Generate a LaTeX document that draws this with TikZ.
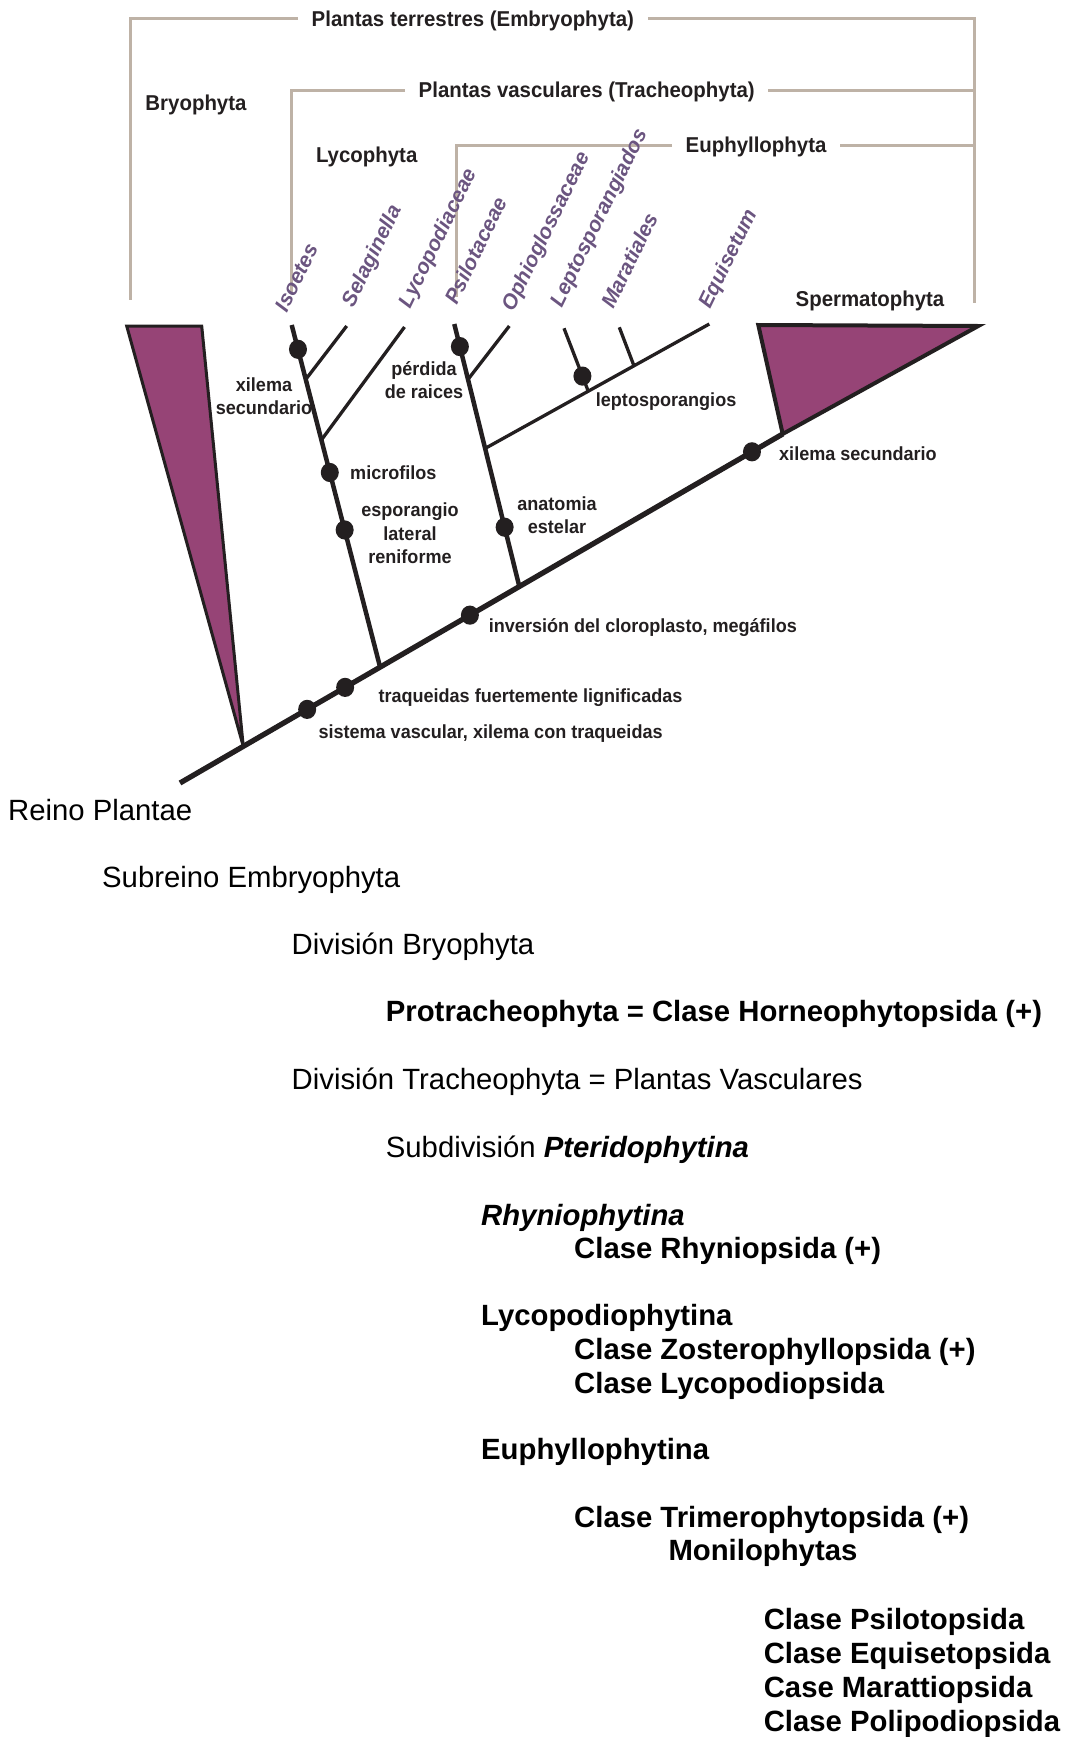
\documentclass[tikz,border=0pt]{standalone}
\usepackage{fontspec}
\setmainfont{Liberation Sans}
\newfontfamily\dfont[FakeStretch=0.95]{Liberation Sans}
\usetikzlibrary{calc}
\definecolor{ink}{RGB}{35,31,32}
\definecolor{brk}{RGB}{190,178,166}
\definecolor{purp}{RGB}{150,68,118}
\definecolor{spc}{RGB}{107,85,128}
\begin{document}
\begin{tikzpicture}[x=1pt,y=-1pt,
  hdr/.style={font=\dfont\bfseries\fontsize{21.5}{26}\selectfont, text=ink, inner xsep=13.5pt, inner ysep=0pt, text height=15.4pt, text depth=0pt, anchor=west},
  hdrt/.style={font=\dfont\bfseries\fontsize{21.5}{26}\selectfont, text=ink, inner sep=0pt, text height=15.4pt, text depth=0pt},
  lbl/.style={font=\dfont\bfseries\fontsize{19}{23.5}\selectfont, text=ink, inner sep=0pt},
  lbl1/.style={lbl, anchor=west, text height=13.7pt, text depth=0pt},
  mlbl/.style={lbl, align=center},
  spname/.style={font=\bfseries\itshape\fontsize{21}{25}\selectfont, text=spc, rotate=64, anchor=base west, inner sep=0pt},
  tx/.style={font=\fontsize{29.3}{34}\selectfont, anchor=west, inner sep=0pt, text height=21pt, text depth=0pt},
  txb/.style={tx, font=\bfseries\fontsize{29.3}{34}\selectfont},
  bracket/.style={draw=brk, line width=3pt},
  trunk/.style={draw=ink, line width=5.3pt},
  stem/.style={draw=ink, line width=4.5pt},
  twig/.style={draw=ink, line width=3.3pt},
  tri/.style={fill=purp, draw=ink, line join=miter, miter limit=5}
]
\useasboundingbox (0,0) rectangle (1065,1737);

% ---------- brackets ----------
\node[hdr] (H1) at (298,18.5) {Plantas terrestres (Embryophyta)};
\node[hdr] (H2) at (405,90) {Plantas vasculares (Tracheophyta)};
\node[hdr] (H3) at (672,145) {Euphyllophyta};
\coordinate (B1) at (130.8,300);
\coordinate (B2) at (291.5,292);
\coordinate (B3) at (456.7,297);
\coordinate (R1) at (974,303);
\draw[bracket] (H1.west) -| (B1);
\draw[bracket] (H1.east) -| (R1);
\draw[bracket] (H2.west) -| (B2);
\draw[bracket] (H2.east) -- (H2.east -| R1);
\draw[bracket] (H3.west) -| (B3);
\draw[bracket] (H3.east) -- (H3.east -| R1);

\node[hdrt] (bryo) at (196,103) {Bryophyta};
\node[hdrt] (lyco) at (366.7,155) {Lycophyta};
\node[hdrt] (sperm) at (870,298.8) {Spermatophyta};

% ---------- species names ----------
\node[spname] (sIso) at (286.7,313.3) {Isoetes};
\node[spname] (sSel) at (353.3,308.3) {Selaginella};
\node[spname] (sLyc) at (410,309.3) {Lycopodiaceae};
\node[spname] (sPsi) at (456.7,306) {Psilotaceae};
\node[spname] (sOph) at (513.3,312.7) {Ophioglossaceae};
\node[spname] (sLep) at (561.7,308.3) {Leptosporangiados};
\node[spname] (sMar) at (613.3,310) {Maratiales};
\node[spname] (sEqu) at (710,310) {Equisetum};

% ---------- tree ----------
\coordinate (M0) at (180,783);
\coordinate (MT) at (782.7,434);
\coordinate (LA) at ($(M0)!0.105!(MT)$);
\coordinate (LT) at (291.7,325);
\coordinate (L0) at ($(M0)!0.332!(MT)$);
\coordinate (ET) at (454.3,324);
\coordinate (E0) at ($(M0)!0.563!(MT)$);
\coordinate (SelT) at (346.7,326);
\coordinate (SelB) at ($(LT)!0.159!(L0)$);
\coordinate (LycT) at (404.5,327);
\coordinate (LycB) at ($(LT)!0.336!(L0)$);
\coordinate (OphT) at (509.3,326);
\coordinate (OphB) at ($(ET)!0.211!(E0)$);
\coordinate (FB) at ($(ET)!0.474!(E0)$);
\coordinate (FT) at (709.3,324);
\coordinate (LpT) at (564,328.3);
\coordinate (LpB) at ($(FB)!0.46!(FT)$);
\coordinate (MrT) at (619.3,327.3);
\coordinate (MrB) at ($(FB)!0.664!(FT)$);

\draw[trunk] (M0) -- (MT);
\draw[stem] (L0) -- (LT);
\draw[stem] (E0) -- (ET);
\draw[twig] (SelB) -- (SelT);
\draw[twig] (LycB) -- (LycT);
\draw[twig] (OphB) -- (OphT);
\draw[twig] (FB) -- (FT);
\draw[twig] (LpB) -- (LpT);
\draw[twig] (MrB) -- (MrT);

\filldraw[tri, line width=3pt, miter limit=4] (126.7,326) -- (201.7,326) -- (LA) -- cycle;
\filldraw[tri, line width=4pt] (758.3,325) -- (978.3,326) -- (MT) -- cycle;

% dots
\foreach \p in {($(LT)!0.071!(L0)$), ($(LT)!0.431!(L0)$), ($(LT)!0.599!(L0)$),
                ($(ET)!0.086!(E0)$), ($(ET)!0.774!(E0)$),
                ($(LpT)!0.76!(LpB)$),
                ($(M0)!0.211!(MT)$), ($(M0)!0.274!(MT)$), ($(M0)!0.481!(MT)$), ($(M0)!0.949!(MT)$)}
  \fill[ink] \p circle[x radius=9pt, y radius=9.6pt];

% ---------- character labels ----------
\node[mlbl] (cXil) at (264,396) {xilema\\secundario};
\node[mlbl] (cPer) at (424,380) {pérdida\\de raices};
\node[lbl1] (cMic) at (350,472.3) {microfilos};
\node[mlbl] (cEsp) at (410,533.5) {esporangio\\lateral\\reniforme};
\node[mlbl] (cAna) at (557,515) {anatomia\\estelar};
\node[lbl1] (cLep) at (595.7,400) {leptosporangios};
\node[lbl1] (cXil2) at (779,454) {xilema secundario};
\node[lbl1] (cInv) at (488.7,626) {inversión del cloroplasto, megáfilos};
\node[lbl1] (cTra) at (378.3,695.3) {traqueidas fuertemente lignificadas};
\node[lbl1] (cSis) at (318.3,731.7) {sistema vascular, xilema con traqueidas};

% ---------- classification ----------
\node[tx] (t1) at (8,810) {Reino Plantae};
\node[tx] (t2) at (102,876.6) {Subreino Embryophyta};
\node[tx] (t3) at (291.5,944) {División Bryophyta};
\node[txb] (t4) at (385.7,1010.6) {Protracheophyta = Clase Horneophytopsida (+)};
\node[tx] (t5) at (291.5,1079.3) {División Tracheophyta = Plantas Vasculares};
\node[tx] (t6) at (385.7,1147) {Subdivisión \textbf{\textit{Pteridophytina}}};
\node[txb] (t7) at (481,1214.5) {\textit{Rhyniophytina}};
\node[txb] (t8) at (574,1247.7) {Clase Rhyniopsida (+)};
\node[txb] (t9) at (481,1315.3) {Lycopodiophytina};
\node[txb] (t10) at (574,1348.6) {Clase Zosterophyllopsida (+)};
\node[txb] (t11) at (574,1383) {Clase Lycopodiopsida};
\node[txb] (t12) at (481,1449.4) {Euphyllophytina};
\node[txb] (t13) at (574,1517) {Clase Trimerophytopsida (+)};
\node[txb] (t14) at (668.3,1550.3) {Monilophytas};
\node[txb] (t15) at (763.6,1619) {Clase Psilotopsida};
\node[txb] (t16) at (763.6,1653.3) {Clase Equisetopsida};
\node[txb] (t17) at (763.6,1686.6) {Case Marattiopsida};
\node[txb] (t18) at (763.6,1720.9) {Clase Polipodiopsida};
\end{tikzpicture}
\end{document}
